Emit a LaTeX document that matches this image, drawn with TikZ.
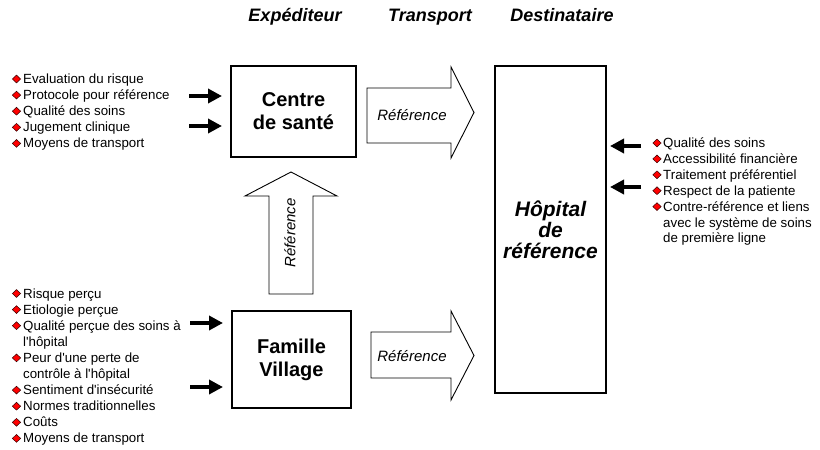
\documentclass[tikz,border=0pt]{standalone}
\usepackage{fontspec}
\setmainfont{Liberation Sans}[Ligatures=TeXOff]
\usetikzlibrary{shapes.geometric,arrows.meta}
\begin{document}
\begin{tikzpicture}[x=1pt,y=-1pt,
  box/.style={draw,line width=1.1pt,inner sep=0pt,align=center},
  blockarrow/.style={draw,line width=0.9pt,fill=white,line join=miter},
  smallarrow/.style={line width=3.5pt,-{Triangle[length=14pt,width=14pt]}},
  bul/.style={diamond,draw=black!80!red,fill=red,line width=0.5pt,inner sep=0pt,minimum width=8.5pt,minimum height=8pt},
  itm/.style={anchor=base west,inner sep=0pt,font=\fontsize{13.3}{16}\selectfont},
  hdr/.style={anchor=base,inner sep=0pt,font=\fontsize{18}{20}\selectfont\bfseries\itshape},
  reflabel/.style={inner sep=0pt,font=\fontsize{15}{17}\selectfont\itshape},
]
\useasboundingbox (0,0) rectangle (820,450);

% headers
\node[hdr] (hexp) at (295,21) {Expéditeur};
\node[hdr] (htra) at (430,21) {Transport};
\node[hdr] (hdes) at (562,21) {Destinataire};

% boxes
\node[box,minimum width=125pt,minimum height=91pt,font=\fontsize{20}{23}\selectfont\bfseries] (centre) at (293.5,111.5) {Centre\\de santé};
\node[box,minimum width=119pt,minimum height=97pt,font=\fontsize{20}{23}\selectfont\bfseries] (famille) at (291.5,359.5) {Famille\\Village};
\node[box,minimum width=111pt,minimum height=327pt,font=\fontsize{21}{21}\selectfont\bfseries\itshape] (hopital) at (550.5,229.5) {Hôpital\\de\\référence};

% block arrows
\draw[blockarrow] (367,88) -- (451,88) -- (451,67) -- (474,112.5) -- (451,158) -- (451,143) -- (367,143) -- cycle;
\node[reflabel] (ref1) at (412,115) {Référence};
\draw[blockarrow] (371,332) -- (451,332) -- (451,311) -- (474,355.5) -- (451,400) -- (451,378) -- (371,378) -- cycle;
\node[reflabel] (ref2) at (412,356) {Référence};
\draw[blockarrow] (269,294) -- (269,196) -- (245,196) -- (291,172) -- (337,196) -- (313,196) -- (313,294) -- cycle;
\node[reflabel,rotate=90] (ref3) at (290,233) {Référence};

% small arrows
\coordinate (l1s) at (189,96);  \coordinate (l1e) at (222,96);
\coordinate (l2s) at (189,126); \coordinate (l2e) at (222,126);
\coordinate (l3s) at (190,323); \coordinate (l3e) at (223,323);
\coordinate (l4s) at (190,387); \coordinate (l4e) at (223,387);
\coordinate (r1s) at (641,146); \coordinate (r1e) at (610,146);
\coordinate (r2s) at (641,187); \coordinate (r2e) at (610,187);
\draw[smallarrow] (l1s) -- (l1e);
\draw[smallarrow] (l2s) -- (l2e);
\draw[smallarrow] (l3s) -- (l3e);
\draw[smallarrow] (l4s) -- (l4e);
\draw[smallarrow] (r1s) -- (r1e);
\draw[smallarrow] (r2s) -- (r2e);

% top-left list
\foreach \t [count=\i from 0] in {Evaluation du risque,Protocole pour référence,Qualité des soins,Jugement clinique,Moyens de transport}{
  \node[itm] (ta\i) at (23,{83.5+16.1*\i}) {\t};
  \node[bul] (tb\i) at (16.5,{79+16.1*\i}) {};
}

% bottom-left list
\foreach \t/\b [count=\i from 0] in {Risque perçu/1,Etiologie perçue/1,Qualité perçue des soins à/1,l'hôpital/0,Peur d'une perte de/1,contrôle à l'hôpital/0,Sentiment d'insécurité/1,Normes traditionnelles/1,Coûts/1,Moyens de transport/1}{
  \node[itm] (ba\i) at (23,{298+16.1*\i}) {\t};
  \ifnum\b=1 \node[bul] (bb\i) at (16.5,{293.5+16.1*\i}) {};\fi
}

% right list
\foreach \t/\b [count=\i from 0] in {Qualité des soins/1,Accessibilité financière/1,Traitement préférentiel/1,Respect de la patiente/1,Contre-référence et liens/1,avec le système de soins/0,de première ligne/0}{
  \node[itm] (ra\i) at (663,{147.5+15.9*\i}) {\t};
  \ifnum\b=1 \node[bul] (rb\i) at (657,{143+15.9*\i}) {};\fi
}
\end{tikzpicture}
\end{document}
